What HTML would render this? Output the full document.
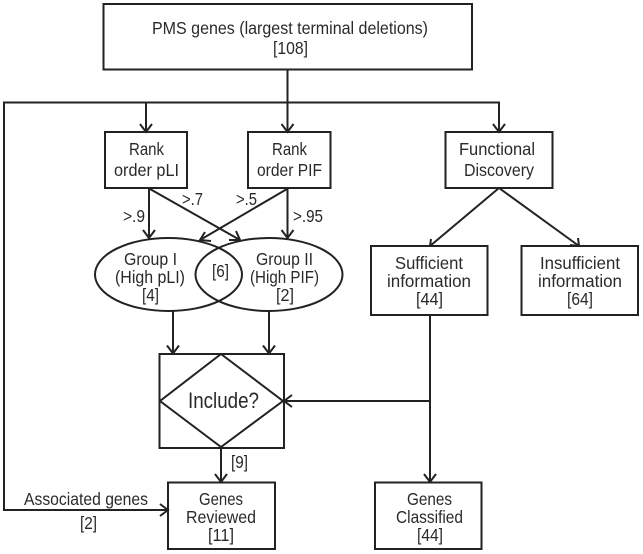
<!DOCTYPE html>
<html><head><meta charset="utf-8"><style>
html,body{margin:0;padding:0;background:#fff}
svg{display:block}
text{font-family:"Liberation Sans",sans-serif;font-size:17.5px;fill:#2a2a2a;text-anchor:start}
</style></head><body>
<svg width="643" height="554" viewBox="0 0 643 554" xmlns="http://www.w3.org/2000/svg">
<g fill="none" stroke="#222" stroke-width="2">
<rect x="103.5" y="4" width="368.5" height="65.500"/>
<path d="M287.500 69.500V132M499 132V102.500H4V510H168M146 102.500V132"/>
<rect x="105" y="132" width="82" height="56"/>
<rect x="248" y="132" width="82.500" height="56"/>
<rect x="445.500" y="132" width="107" height="56"/>
<path d="M149 188V238M150 189L240 240M287.500 188V238M287 189L200 240"/>
<ellipse cx="168.500" cy="274.500" rx="73.500" ry="36.500"/>
<ellipse cx="269" cy="274.500" rx="73.500" ry="36.500"/>
<path d="M499 188L430 246M499 188L579 246"/>
<rect x="371" y="246" width="116.500" height="69"/>
<rect x="521.500" y="246" width="116.500" height="69"/>
<path d="M173 311V353.500M269 311V353.500"/>
<rect x="159.500" y="354" width="124.500" height="94"/>
<path d="M221 354L283 401L221 447L160 401Z"/>
<path d="M221 448V482M430 315V482M430 401H284"/>
<rect x="168" y="482.500" width="107" height="66.500"/>
<rect x="375" y="482.500" width="106.500" height="66.500"/>
<!-- arrowheads -->
<path d="M140 124L146 132L152 124M281.500 124L287.500 132L293.500 124M493 124L499 132L505 124"/>
<path d="M143 230L149 238L155 230M281.500 230L287.500 238L293.500 230"/>
<path d="M236 231L240 240L229 240M205 232L200 240L211 241"/>
<path d="M431 239L430 246L439 246M570 245L579 246L578 238"/>
<path d="M167 345.500L173 353.500L179 345.500M263 345.500L269 353.500L275 345.500"/>
<path d="M215 474L221 482L227 474M424 474L430 482L436 474"/>
<path d="M292 395L284 401L292 407M160 504L168 510L160 516"/>
</g>
<text x="152" y="34" textLength="276" lengthAdjust="spacingAndGlyphs">PMS genes (largest terminal deletions)</text>
<text x="273" y="54" textLength="35" lengthAdjust="spacingAndGlyphs">[108]</text>
<text x="129" y="155" textLength="35" lengthAdjust="spacingAndGlyphs">Rank</text>
<text x="114" y="176" textLength="65" lengthAdjust="spacingAndGlyphs">order pLI</text>
<text x="272" y="155" textLength="35" lengthAdjust="spacingAndGlyphs">Rank</text>
<text x="257" y="176" textLength="65" lengthAdjust="spacingAndGlyphs">order PIF</text>
<text x="459" y="155" textLength="76" lengthAdjust="spacingAndGlyphs">Functional</text>
<text x="464" y="176" textLength="70" lengthAdjust="spacingAndGlyphs">Discovery</text>
<text x="123" y="222" textLength="22" lengthAdjust="spacingAndGlyphs">&gt;.9</text>
<text x="182" y="205" textLength="21" lengthAdjust="spacingAndGlyphs">&gt;.7</text>
<text x="236" y="205" textLength="21" lengthAdjust="spacingAndGlyphs">&gt;.5</text>
<text x="293" y="222" textLength="30" lengthAdjust="spacingAndGlyphs">&gt;.95</text>
<text x="124" y="265" textLength="53" lengthAdjust="spacingAndGlyphs">Group I</text>
<text x="115" y="283" textLength="70" lengthAdjust="spacingAndGlyphs">(High pLI)</text>
<text x="142" y="301" textLength="17" lengthAdjust="spacingAndGlyphs">[4]</text>
<text x="212" y="277" textLength="17" lengthAdjust="spacingAndGlyphs">[6]</text>
<text x="256" y="265" textLength="57" lengthAdjust="spacingAndGlyphs">Group II</text>
<text x="250" y="283" textLength="69" lengthAdjust="spacingAndGlyphs">(High PIF)</text>
<text x="276" y="301" textLength="18" lengthAdjust="spacingAndGlyphs">[2]</text>
<text x="395" y="269" textLength="68" lengthAdjust="spacingAndGlyphs">Sufficient</text>
<text x="387" y="287" textLength="84" lengthAdjust="spacingAndGlyphs">information</text>
<text x="416" y="305" textLength="27" lengthAdjust="spacingAndGlyphs">[44]</text>
<text x="540" y="269" textLength="80" lengthAdjust="spacingAndGlyphs">Insufficient</text>
<text x="538" y="287" textLength="84" lengthAdjust="spacingAndGlyphs">information</text>
<text x="567" y="305" textLength="26" lengthAdjust="spacingAndGlyphs">[64]</text>
<text x="188" y="408" style="font-size:22px" textLength="71" lengthAdjust="spacingAndGlyphs">Include?</text>
<text x="231" y="468" textLength="17" lengthAdjust="spacingAndGlyphs">[9]</text>
<text x="24" y="505" textLength="124" lengthAdjust="spacingAndGlyphs">Associated genes</text>
<text x="80" y="529" textLength="17" lengthAdjust="spacingAndGlyphs">[2]</text>
<text x="199" y="505" textLength="44" lengthAdjust="spacingAndGlyphs">Genes</text>
<text x="186" y="523" textLength="70" lengthAdjust="spacingAndGlyphs">Reviewed</text>
<text x="208" y="541" textLength="26" lengthAdjust="spacingAndGlyphs">[11]</text>
<text x="407" y="505" textLength="45" lengthAdjust="spacingAndGlyphs">Genes</text>
<text x="396" y="523" textLength="67" lengthAdjust="spacingAndGlyphs">Classified</text>
<text x="417" y="541" textLength="26" lengthAdjust="spacingAndGlyphs">[44]</text>
</svg>
</body></html>
